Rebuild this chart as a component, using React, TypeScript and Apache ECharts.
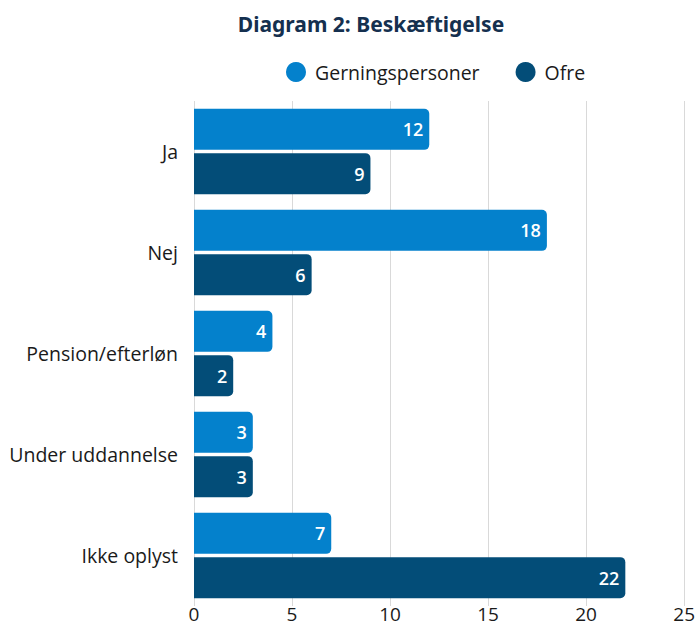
import React, { useEffect, useRef } from "react";
import * as echarts from "echarts";

const categories = ["Ja", "Nej", "Pension/efterløn", "Under uddannelse", "Ikke oplyst"];
const gerningspersoner = [12, 18, 4, 3, 7];
const ofre = [9, 6, 2, 3, 22];
const seriesNames = ["Gerningspersoner", "Ofre"];
const xTicks = { min: 0, max: 25, interval: 5 };

export default function App() {
  const ref = useRef<HTMLDivElement>(null);
  useEffect(() => {
    if (!ref.current) return;
    const chart = echarts.init(ref.current, undefined, { renderer: "svg" });
    const font = "'Open Sans', sans-serif";
    const labelStyle = {
      show: true,
      position: "insideRight" as const,
      color: "#ffffff",
      fontSize: 18,
      fontWeight: 600 as any,
      fontFamily: font,
      distance: 6,
    };
    chart.setOption({
      animation: false,
      backgroundColor: "#ffffff",
      title: {
        text: "Diagram 2: Beskæftigelse",
        left: 366,
        textAlign: "center",
        top: 8,
        textStyle: { fontFamily: "'Noto Sans', sans-serif", fontWeight: "bold", fontSize: 21, color: "#15304f" },
      },
      legend: {
        data: seriesNames,
        left: 286,
        top: 62,
        padding: 0,
        icon: "circle",
        itemWidth: 20,
        itemHeight: 20,
        itemGap: 36,
        textStyle: { fontFamily: font, fontSize: 19.5, color: "#1a1a1a", padding: [0, 0, 0, 4] },
      },
      grid: { left: 194, right: 12, top: 101, bottom: 21, containLabel: false },
      xAxis: {
        type: "value",
        min: xTicks.min,
        max: xTicks.max,
        interval: xTicks.interval,
        axisLine: { show: false },
        axisTick: { show: false },
        splitLine: { show: true, lineStyle: { color: "#d9d9d9", width: 1 } },
        axisLabel: { fontFamily: font, fontSize: 19, lineHeight: 16, color: "#1a1a1a", margin: 0 },
      },
      yAxis: {
        type: "category",
        data: categories,
        inverse: true,
        axisLine: { show: false },
        axisTick: { show: false },
        axisLabel: { fontFamily: font, fontSize: 19.5, color: "#1a1a1a", margin: 16 },
      },
      series: [
        {
          name: seriesNames[0],
          type: "bar",
          data: gerningspersoner,
          barWidth: 41,
          barGap: "8%",
          itemStyle: { color: "#0481cc", borderRadius: [0, 5, 5, 0] },
          label: labelStyle,
        },
        {
          name: seriesNames[1],
          type: "bar",
          data: ofre,
          barWidth: 41,
          barGap: "8%",
          itemStyle: { color: "#034d78", borderRadius: [0, 5, 5, 0] },
          label: labelStyle,
        },
      ],
    });
    return () => chart.dispose();
  }, []);
  return <div ref={ref} style={{ width: 698, height: 627, position: "absolute", left: 0, top: 0 }} />;
}
